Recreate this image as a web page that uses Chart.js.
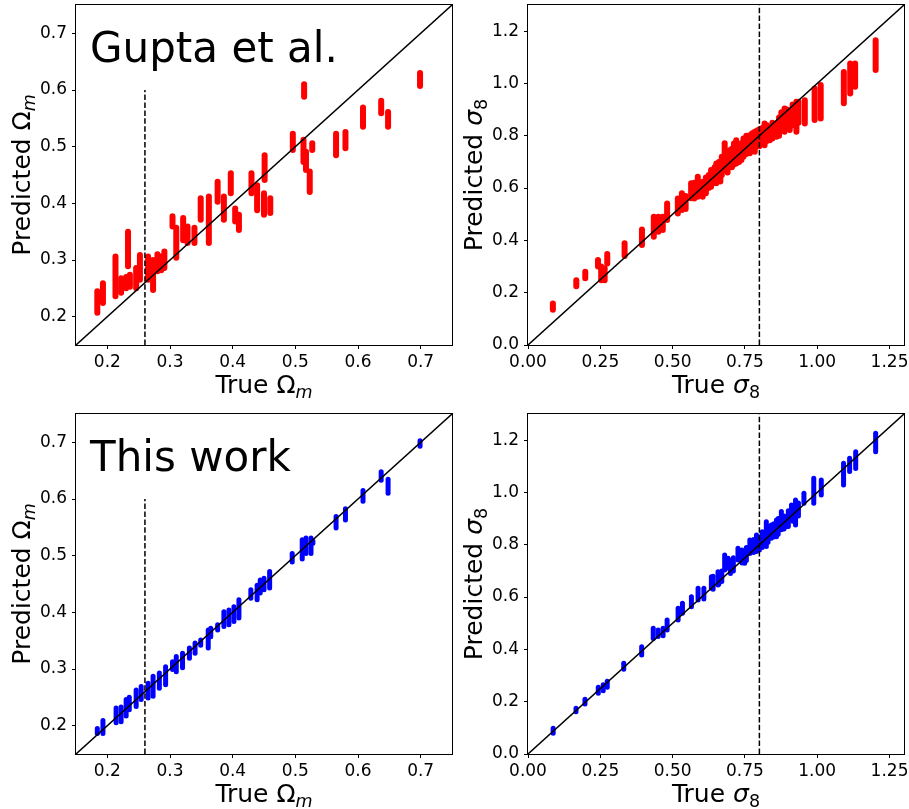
<!DOCTYPE html>
<html><head><meta charset="utf-8">
<script src="https://cdn.jsdelivr.net/npm/chart.js@4.4.0/dist/chart.umd.min.js"></script>
<style>
html,body{margin:0;padding:0;background:#fff;}
#wrap{position:relative;width:909px;height:809px;background:#fff;overflow:hidden}
canvas{position:absolute}
</style></head><body>
<div id="wrap">
<canvas id="c1" width="455" height="404" style="left:0;top:0"></canvas>
<canvas id="c2" width="454" height="404" style="left:455px;top:0"></canvas>
<canvas id="c3" width="455" height="405" style="left:0;top:404px"></canvas>
<canvas id="c4" width="454" height="405" style="left:455px;top:404px"></canvas>
</div>
<script>
// ---------- Data ----------
// Gupta et al., Omega_m : true value, lowest and highest prediction of each streak
const GUPTA_OM_TRUE = [0.184,0.193,0.213,0.222,0.230,0.236,0.233,0.246,0.252,0.265,0.273,0.280,0.286,0.291,0.304,0.310,0.321,0.328,0.339,0.349,0.362,0.376,0.386,0.397,0.404,0.410,0.430,0.439,0.451,0.450,0.460,0.496,0.514,0.513,0.517,0.523,0.527,0.565,0.580,0.608,0.637,0.648,0.699];
const GUPTA_OM_LO   = [0.207,0.224,0.236,0.242,0.250,0.253,0.289,0.250,0.265,0.265,0.247,0.280,0.282,0.286,0.359,0.304,0.335,0.330,0.330,0.371,0.330,0.403,0.371,0.418,0.368,0.353,0.418,0.388,0.441,0.380,0.383,0.494,0.588,0.473,0.459,0.420,0.494,0.485,0.497,0.535,0.559,0.535,0.607];
const GUPTA_OM_HI   = [0.245,0.259,0.306,0.268,0.270,0.274,0.350,0.286,0.309,0.306,0.300,0.310,0.306,0.315,0.377,0.357,0.374,0.359,0.357,0.409,0.412,0.438,0.412,0.453,0.391,0.380,0.453,0.432,0.485,0.418,0.409,0.523,0.610,0.512,0.491,0.456,0.506,0.523,0.526,0.569,0.581,0.561,0.630];

// Gupta et al., sigma_8
const GUPTA_S8_TRUE = [0.086,0.167,0.198,0.242,0.253,0.265,0.274,0.334,0.394,0.435,0.451,0.466,0.481,0.518,0.532,0.564,0.587,0.604,0.633,0.651,0.665,0.680,0.697,0.720,0.738,0.767,0.784,0.800,0.818,0.836,0.859,0.887,0.905,0.928,0.957,0.991,1.012,1.092,1.114,1.131,1.202,
  0.545,0.575,0.615,0.625,0.645,0.660,0.670,0.690,0.705,0.712,0.730,0.745,0.755,0.775,0.792,0.810,0.826,0.845,0.868,0.876,0.895,0.915,0.935];
const GUPTA_S8_LO   = [0.135,0.225,0.255,0.300,0.248,0.248,0.312,0.340,0.382,0.414,0.433,0.440,0.478,0.503,0.516,0.561,0.567,0.567,0.605,0.618,0.625,0.669,0.681,0.694,0.707,0.733,0.739,0.760,0.764,0.783,0.796,0.815,0.822,0.815,0.847,0.860,0.866,0.924,0.962,0.987,1.051,
  0.520,0.560,0.580,0.600,0.620,0.630,0.650,0.660,0.680,0.690,0.700,0.720,0.730,0.750,0.760,0.770,0.780,0.790,0.800,0.820,0.830,0.840,0.850];
const GUPTA_S8_HI   = [0.159,0.248,0.280,0.325,0.300,0.293,0.348,0.389,0.442,0.490,0.490,0.490,0.541,0.560,0.580,0.618,0.643,0.624,0.669,0.694,0.680,0.771,0.745,0.783,0.771,0.802,0.815,0.825,0.847,0.834,0.847,0.904,0.891,0.930,0.936,0.981,0.994,1.044,1.076,1.076,1.165,
  0.570,0.620,0.640,0.650,0.680,0.700,0.720,0.730,0.750,0.770,0.760,0.790,0.800,0.810,0.820,0.830,0.840,0.850,0.870,0.890,0.900,0.920,0.930];

// This work, Omega_m
const OURS_OM_TRUE = [0.184,0.193,0.214,0.222,0.230,0.235,0.246,0.254,0.265,0.273,0.283,0.293,0.304,0.310,0.320,0.331,0.340,0.349,0.361,0.365,0.376,0.386,0.394,0.402,0.410,0.429,0.439,0.444,0.450,0.459,0.495,0.511,0.517,0.525,0.528,0.565,0.580,0.608,0.637,0.648,0.699];
const OURS_OM_LO   = [0.186,0.186,0.205,0.207,0.217,0.228,0.234,0.246,0.249,0.252,0.266,0.272,0.299,0.295,0.302,0.319,0.328,0.342,0.337,0.357,0.369,0.375,0.378,0.384,0.390,0.425,0.422,0.434,0.440,0.443,0.489,0.494,0.504,0.504,0.522,0.549,0.563,0.596,0.633,0.610,0.693];
const OURS_OM_HI   = [0.195,0.209,0.231,0.233,0.246,0.250,0.263,0.269,0.275,0.287,0.293,0.304,0.313,0.322,0.328,0.337,0.346,0.351,0.369,0.372,0.378,0.401,0.404,0.410,0.422,0.440,0.448,0.457,0.460,0.472,0.504,0.528,0.531,0.531,0.526,0.569,0.583,0.615,0.648,0.635,0.703];

// This work, sigma_8
const OURS_S8_TRUE = [0.087,0.166,0.197,0.243,0.260,0.274,0.331,0.393,0.433,0.450,0.467,0.481,0.519,0.534,0.565,0.588,0.608,0.634,0.657,0.680,0.692,0.726,0.749,0.767,0.790,0.824,0.841,0.859,0.876,0.893,0.911,0.925,0.954,0.988,1.014,1.091,1.112,1.133,1.202,
  0.640,0.660,0.670,0.700,0.710,0.740,0.755,0.780,0.800,0.810,0.830,0.850,0.865,0.885,0.900,0.915,0.935];
const OURS_S8_LO   = [0.079,0.162,0.191,0.232,0.242,0.255,0.324,0.379,0.442,0.449,0.452,0.474,0.512,0.538,0.563,0.589,0.593,0.634,0.646,0.704,0.710,0.742,0.729,0.767,0.774,0.793,0.825,0.831,0.857,0.869,0.895,0.876,0.959,0.959,0.990,1.029,1.080,1.092,1.156,
  0.630,0.650,0.660,0.690,0.700,0.730,0.740,0.770,0.780,0.790,0.810,0.830,0.840,0.860,0.870,0.890,0.910];
const OURS_S8_HI   = [0.098,0.175,0.209,0.255,0.265,0.278,0.347,0.410,0.481,0.474,0.481,0.512,0.557,0.576,0.601,0.634,0.634,0.678,0.697,0.761,0.748,0.787,0.774,0.818,0.837,0.888,0.876,0.895,0.927,0.907,0.952,0.971,0.997,1.054,1.048,1.112,1.131,1.156,1.226,
  0.680,0.690,0.700,0.740,0.750,0.780,0.790,0.820,0.830,0.850,0.870,0.880,0.900,0.910,0.930,0.950,0.960];

// Axis ranges, ticks and reference lines
const OM_RANGE = [0.15, 0.75];
const S8_RANGE = [0.0, 1.3];
const OM_TICKS = [0.2, 0.3, 0.4, 0.5, 0.6, 0.7];
const OM_TICK_LABELS = ['0.2', '0.3', '0.4', '0.5', '0.6', '0.7'];
const S8_X_TICKS = [0.0, 0.25, 0.5, 0.75, 1.0, 1.25];
const S8_X_TICK_LABELS = ['0.00', '0.25', '0.50', '0.75', '1.00', '1.25'];
const S8_Y_TICKS = [0.0, 0.2, 0.4, 0.6, 0.8, 1.0, 1.2];
const S8_Y_TICK_LABELS = ['0.0', '0.2', '0.4', '0.6', '0.8', '1.0', '1.2'];
const OM_FIDUCIAL = 0.26, OM_FIDUCIAL_TOP = 0.6;
const S8_FIDUCIAL = 0.8;
const PANEL_LABELS = ['Gupta et al.', 'This work'];

// ---------- Drawing ----------
const FONT = "'DejaVu Sans', sans-serif";
const OM_SYM = [{text: 'Ω'}, {text: 'm', italic: true, sub: true}];
const S8_SYM = [{text: 'σ', italic: true}, {text: '8', sub: true}];

function drawRich(ctx, segs, size) {
  let total = 0;
  const parts = segs.map(s => {
    const fs = s.sub ? size * 0.7 : size;
    const font = (s.italic ? 'italic ' : '') + fs + 'px ' + FONT;
    ctx.font = font;
    const w = ctx.measureText(s.text).width;
    total += w;
    return {font, w, text: s.text, dy: s.sub ? size * 0.2 : 0};
  });
  let x = -total / 2;
  ctx.textBaseline = 'alphabetic';
  ctx.textAlign = 'left';
  for (const p of parts) { ctx.font = p.font; ctx.fillText(p.text, x, p.dy); x += p.w; }
}

const decoPlugin = {
  id: 'deco',
  afterDatasetsDraw(chart, args, o) {
    const {ctx, chartArea: a} = chart;
    ctx.save();
    ctx.strokeStyle = '#000';
    ctx.lineWidth = 1;
    ctx.strokeRect(Math.round(a.left) - 0.5, Math.round(a.top) - 0.5,
                   Math.round(a.right - a.left) + 1, Math.round(a.bottom - a.top) + 1);
    ctx.restore();
  },
  afterDraw(chart, args, o) {
    const {ctx, chartArea: a} = chart;
    ctx.save();
    ctx.fillStyle = '#000';
    ctx.save();
    ctx.translate((a.left + a.right) / 2, a.bottom + o.xTitleOffset);
    drawRich(ctx, o.xTitle, o.titleSize);
    ctx.restore();
    ctx.save();
    ctx.translate(a.left - o.yTitleOffset, (a.top + a.bottom) / 2);
    ctx.rotate(-Math.PI / 2);
    drawRich(ctx, o.yTitle, o.titleSize);
    ctx.restore();
    if (o.label) {
      ctx.font = '42px ' + FONT;
      ctx.textAlign = 'left';
      ctx.textBaseline = 'alphabetic';
      ctx.fillText(o.label, a.left + 14, a.top + 57);
    }
    ctx.restore();
  }
};

function streakSets(tv, lo, hi, color, width) {
  return tv.map((t, i) => ({
    data: [{x: t, y: lo[i]}, {x: t, y: hi[i]}],
    showLine: true, borderColor: color, backgroundColor: color,
    borderWidth: width, borderCapStyle: 'round', pointRadius: 0, order: 5
  }));
}

function makeChart(id, cfg) {
  const scaleCommon = (range, ticks, labels) => ({
    type: 'linear', min: range[0], max: range[1],
    afterBuildTicks: s => { s.ticks = ticks.map(v => ({value: v})); },
    ticks: {
      autoSkip: false, maxRotation: 0, minRotation: 0, color: '#000',
      font: {family: FONT, size: 17},
      callback: (v, i) => labels[i]
    },
    grid: {display: true, drawOnChartArea: false, drawTicks: true, tickLength: 4, color: '#000', lineWidth: 1},
    border: {display: false},
    title: {display: false}
  });
  const xs = scaleCommon(cfg.range, cfg.xTicks, cfg.xLabels);
  xs.position = 'bottom';
  xs.ticks.padding = 3;
  xs.afterFit = s => { s.height = cfg.xHeight; s.paddingLeft = 0; s.paddingRight = 0; };
  const ys = scaleCommon(cfg.range, cfg.yTicks, cfg.yLabels);
  ys.position = 'left';
  ys.ticks.padding = 5;
  ys.afterFit = s => { s.width = cfg.yWidth; s.paddingTop = 0; s.paddingBottom = 0; };

  const datasets = streakSets(cfg.tv, cfg.lo, cfg.hi, cfg.color, cfg.width);
  datasets.push({
    data: [{x: cfg.range[0], y: cfg.range[0]}, {x: cfg.range[1], y: cfg.range[1]}],
    showLine: true, borderColor: '#000', borderWidth: 1.5, pointRadius: 0, order: 1
  });
  datasets.push({
    data: [{x: cfg.fid, y: cfg.range[0]}, {x: cfg.fid, y: cfg.fidTop}],
    showLine: true, borderColor: '#000', borderWidth: 1.5, borderDash: [5.5, 2.4], pointRadius: 0, order: 1
  });

  return new Chart(document.getElementById(id), {
    type: 'scatter',
    data: {datasets},
    options: {
      responsive: false, animation: false, devicePixelRatio: 1,
      layout: {padding: cfg.padding},
      scales: {x: xs, y: ys},
      plugins: {
        legend: {display: false}, tooltip: {enabled: false},
        deco: {xTitle: cfg.xTitle, yTitle: cfg.yTitle, titleSize: 25, xTitleOffset: 48, yTitleOffset: 46, label: cfg.label}
      }
    },
    plugins: [decoPlugin]
  });
}

const RED = '#ff0000', BLUE = '#0000ff';
makeChart('c1', {
  tv: GUPTA_OM_TRUE, lo: GUPTA_OM_LO, hi: GUPTA_OM_HI, color: RED, width: 6,
  range: OM_RANGE, xTicks: OM_TICKS, xLabels: OM_TICK_LABELS, yTicks: OM_TICKS, yLabels: OM_TICK_LABELS,
  fid: OM_FIDUCIAL, fidTop: OM_FIDUCIAL_TOP,
  xTitle: [{text: 'True '}].concat(OM_SYM), yTitle: [{text: 'Predicted '}].concat(OM_SYM),
  label: PANEL_LABELS[0],
  padding: {left: 0, top: 5, right: 3, bottom: 0}, xHeight: 59, yWidth: 76
});
makeChart('c2', {
  tv: GUPTA_S8_TRUE, lo: GUPTA_S8_LO, hi: GUPTA_S8_HI, color: RED, width: 6,
  range: S8_RANGE, xTicks: S8_X_TICKS, xLabels: S8_X_TICK_LABELS, yTicks: S8_Y_TICKS, yLabels: S8_Y_TICK_LABELS,
  fid: S8_FIDUCIAL, fidTop: S8_RANGE[1],
  xTitle: [{text: 'True '}].concat(S8_SYM), yTitle: [{text: 'Predicted '}].concat(S8_SYM),
  label: null,
  padding: {left: 0, top: 5, right: 5, bottom: 0}, xHeight: 59, yWidth: 73
});
makeChart('c3', {
  tv: OURS_OM_TRUE, lo: OURS_OM_LO, hi: OURS_OM_HI, color: BLUE, width: 5,
  range: OM_RANGE, xTicks: OM_TICKS, xLabels: OM_TICK_LABELS, yTicks: OM_TICKS, yLabels: OM_TICK_LABELS,
  fid: OM_FIDUCIAL, fidTop: OM_FIDUCIAL_TOP,
  xTitle: [{text: 'True '}].concat(OM_SYM), yTitle: [{text: 'Predicted '}].concat(OM_SYM),
  label: PANEL_LABELS[1],
  padding: {left: 0, top: 10, right: 3, bottom: 0}, xHeight: 55, yWidth: 76
});
makeChart('c4', {
  tv: OURS_S8_TRUE, lo: OURS_S8_LO, hi: OURS_S8_HI, color: BLUE, width: 5,
  range: S8_RANGE, xTicks: S8_X_TICKS, xLabels: S8_X_TICK_LABELS, yTicks: S8_Y_TICKS, yLabels: S8_Y_TICK_LABELS,
  fid: S8_FIDUCIAL, fidTop: S8_RANGE[1],
  xTitle: [{text: 'True '}].concat(S8_SYM), yTitle: [{text: 'Predicted '}].concat(S8_SYM),
  label: null,
  padding: {left: 0, top: 10, right: 5, bottom: 0}, xHeight: 55, yWidth: 73
});
</script>
</body></html>
